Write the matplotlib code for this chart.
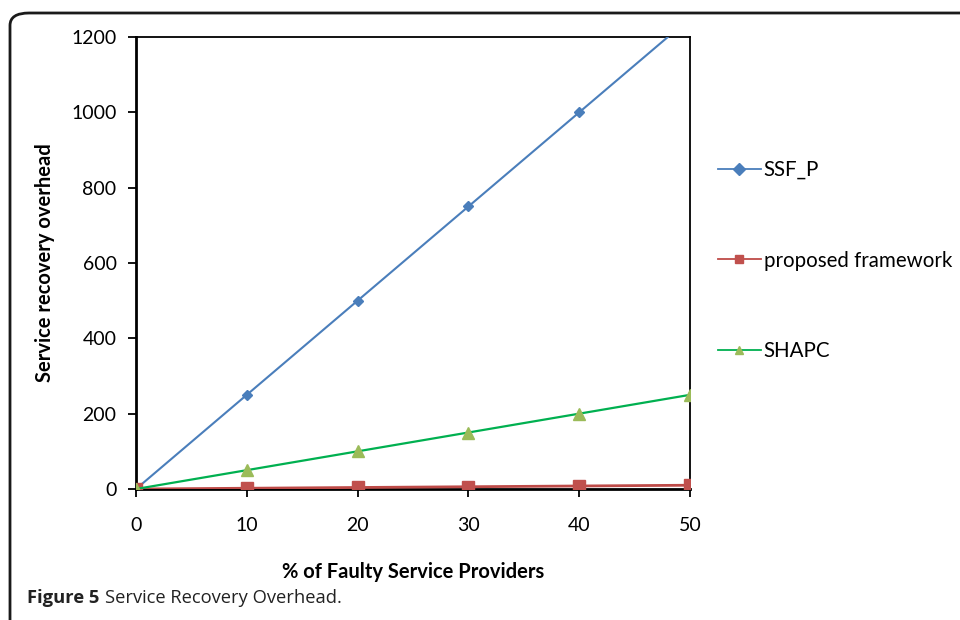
import matplotlib
matplotlib.use("Agg")
import matplotlib.pyplot as plt
from matplotlib.patches import FancyBboxPatch

# Recovery overhead vs. share of faulty providers
faulty_pct = [0, 10, 20, 30, 40, 50]
ssf_p = [0, 250, 500, 750, 1000, 1250]
proposed = [0, 2, 4, 6, 8, 10]
shapc = [0, 50, 100, 150, 200, 250]

y_ticks = [0, 200, 400, 600, 800, 1000, 1200]

FONT = ["Lato", "DejaVu Sans"]
CAP_FONT = ["Open Sans", "DejaVu Sans"]

fig = plt.figure(figsize=(9.6, 6.2), dpi=100)

# rounded frame around the figure panel
frame = FancyBboxPatch((10 / 960, -0.1), 1.2, (620 - 13) / 620 + 0.1,
                       boxstyle="round,pad=0,rounding_size=0.02",
                       transform=fig.transFigure, fill=False,
                       edgecolor="#1a1a1a", linewidth=2.0, clip_on=False)
fig.patches.append(frame)

ax = fig.add_axes([136 / 960, 1 - 489 / 620, (690 - 136) / 960, (489 - 37) / 620])

ax.plot(faulty_pct, ssf_p, color="#4A7EBB", linewidth=1.5, marker="D",
        markersize=5, markerfacecolor="#4A7EBB", markeredgecolor="#4A7EBB",
        label="SSF_P", zorder=3)
ax.plot(faulty_pct, proposed, color="#BE4B48", linewidth=2.0, marker="s",
        markersize=8, markerfacecolor="#C0504D", markeredgecolor="#C0504D",
        label="proposed framework", zorder=4)
ax.plot(faulty_pct, shapc, color="#00B050", linewidth=1.6, marker="^",
        markersize=8, markerfacecolor="#9BBB59", markeredgecolor="#9BBB59",
        label="SHAPC", zorder=5)

ax.set_xlim(0, 50)
ax.set_ylim(0, 1200)
ax.set_xticks(faulty_pct)
ax.set_yticks(y_ticks)

for side in ["left", "bottom"]:
    ax.spines[side].set_linewidth(2.0)
for side in ["top", "right"]:
    ax.spines[side].set_linewidth(1.3)
ax.spines["bottom"].set_zorder(2)

ax.tick_params(axis="both", direction="out", length=6, width=1.3,
               labelsize=14, colors="black")
ax.tick_params(axis="x", pad=14)
ax.tick_params(axis="y", pad=8)
for lbl in ax.get_xticklabels() + ax.get_yticklabels():
    lbl.set_family(FONT)

ax.set_xlabel("% of Faulty Service Providers", fontsize=14.5,
              fontweight="bold", family=FONT, labelpad=20)
ax.set_ylabel("Service recovery overhead", fontsize=14.5,
              fontweight="bold", family=FONT, labelpad=12)

leg = ax.legend(loc="upper left", bbox_to_anchor=(1.035, 0.746), frameon=False,
                fontsize=14.8, labelspacing=3.43, handlelength=2.1,
                handletextpad=0.15, numpoints=1, borderaxespad=0)
for t in leg.get_texts():
    t.set_family(FONT)
for h in leg.legend_handles:
    h.set_linewidth(1.3)
    h.set_markersize(6)

# caption below the chart
cap = fig.text(27 / 960, 1 - 598 / 620, "Figure 5", fontsize=13.2,
               fontweight="bold", family=CAP_FONT, va="center", ha="left",
               color="#222222")
fig.add_artist(plt.Annotation("Service Recovery Overhead.", xy=(1, 0.5),
                              xycoords=cap, xytext=(4, 0),
                              textcoords="offset points", fontsize=13.2,
                              family=CAP_FONT, va="center", ha="left",
                              color="#222222", annotation_clip=False))

fig.savefig("out.png", dpi=100)
